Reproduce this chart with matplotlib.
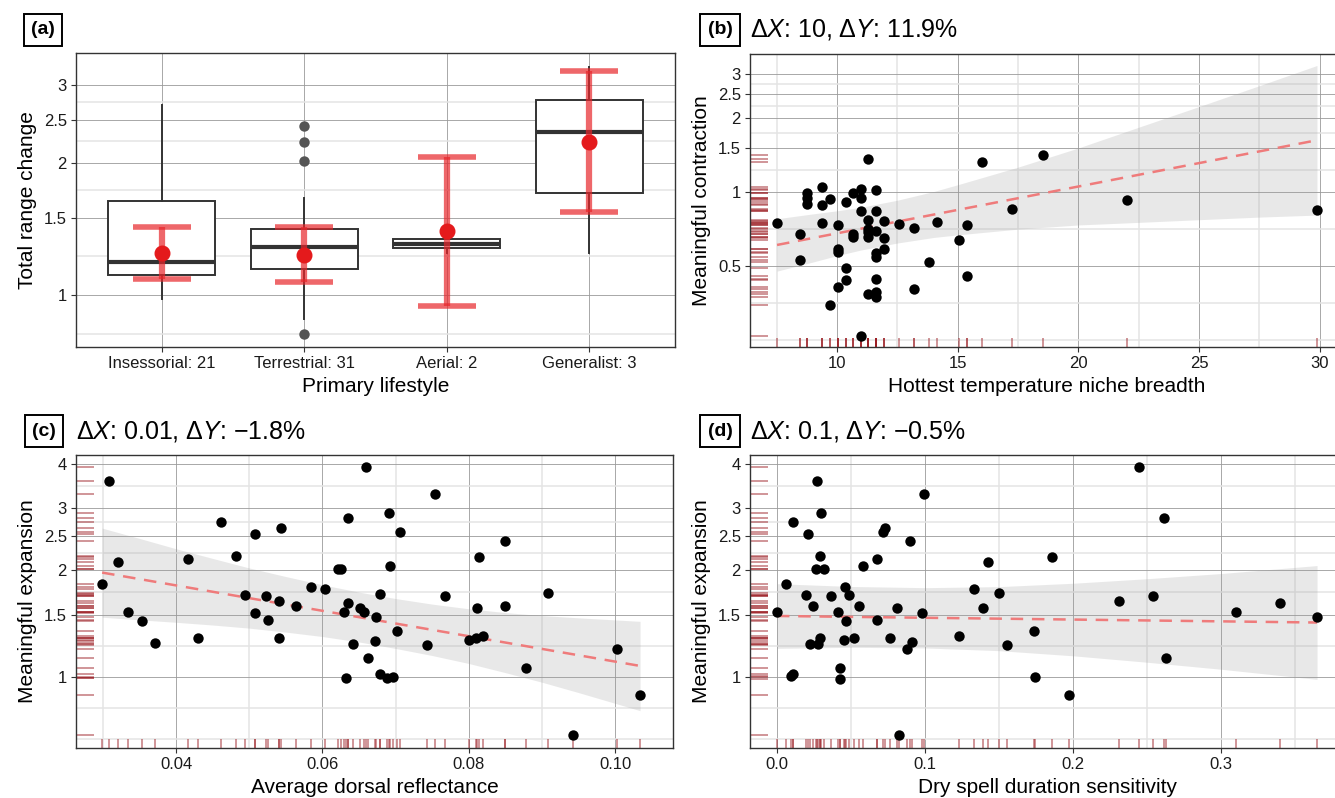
import numpy as np
import matplotlib
matplotlib.use('Agg')
import matplotlib.pyplot as plt
from matplotlib.ticker import FixedLocator, FixedFormatter, NullFormatter, NullLocator

plt.rcParams['font.family'] = ['Liberation Sans', 'DejaVu Sans']
plt.rcParams['mathtext.fontset'] = 'custom'
plt.rcParams['mathtext.rm'] = 'Liberation Sans'
plt.rcParams['mathtext.it'] = 'Liberation Sans:italic'

# ---- panel (a): range change by lifestyle ----
lifestyles = ['Insessorial: 21', 'Terrestrial: 31', 'Aerial: 2', 'Generalist: 3']
box_q1 = [1.114, 1.148, 1.277, 1.706]
box_med = [1.187, 1.288, 1.308, 2.35]
box_q3 = [1.636, 1.413, 1.343, 2.776]
whisk_lo = [0.979, 0.882, 1.25, 1.246]
whisk_hi = [2.70, 1.665, 1.36, 3.30]
outliers = [[], [2.427, 2.23, 2.013, 0.815], [], []]
est = [1.25, 1.237, 1.398, 2.23]
est_lo = [1.091, 1.072, 0.946, 1.544]
est_hi = [1.43, 1.43, 2.056, 3.23]

# ---- panel (b): hottest temperature niche breadth vs contraction ----
b_x = [7.52, 8.45, 8.45, 8.78, 8.78, 8.78, 9.40, 9.40, 9.40, 9.72, 9.72,
       10.04, 10.04, 10.04, 10.04, 10.36, 10.36, 10.36, 10.66, 10.66, 10.66,
       10.98, 10.98, 10.98, 10.98, 11.28, 11.28, 11.28, 11.28, 11.28, 11.28,
       11.61, 11.61, 11.61, 11.61, 11.61, 11.61, 11.61, 11.61, 11.93, 11.93,
       11.93, 12.55, 13.18, 13.18, 13.81, 14.13, 15.07, 15.38, 15.38, 16.02,
       17.27, 18.54, 22.0, 29.88]
b_y = [0.746, 0.672, 0.528, 0.985, 0.94, 0.896, 1.048, 0.884, 0.746, 0.933, 0.346,
       0.735, 0.586, 0.567, 0.41, 0.91, 0.488, 0.437, 0.985, 0.675, 0.654,
       1.026, 0.945, 0.836, 0.26, 1.358, 0.77, 0.708, 0.685, 0.658, 0.385,
       1.016, 0.836, 0.696, 0.562, 0.545, 0.443, 0.391, 0.373, 0.758, 0.647,
       0.586, 0.737, 0.714, 0.404, 0.519, 0.753, 0.638, 0.73, 0.455, 1.32,
       0.855, 1.415, 0.925, 0.847]
b_fit_x = [7.52, 29.88]
b_fit_y = [0.608, 1.62]
b_band_x = [7.52, 9, 10, 11, 12.5, 14, 15, 17.5, 20, 22.5, 25, 27.5, 29.88]
b_band_lo = [0.476, 0.518, 0.550, 0.580, 0.619, 0.652, 0.668, 0.705, 0.733, 0.751, 0.770, 0.789, 0.804]
b_band_hi = [0.777, 0.813, 0.837, 0.865, 0.924, 1.002, 1.068, 1.259, 1.507, 1.83, 2.22, 2.70, 3.26]

# ---- panel (c): dorsal reflectance vs expansion ----
c_x = [0.0309, 0.0299, 0.0321, 0.0334, 0.0354, 0.0371, 0.0417, 0.0430, 0.0462, 0.0482,
       0.0494, 0.0508, 0.0508, 0.0523, 0.0525, 0.0544, 0.0540, 0.0541, 0.0564, 0.0584,
       0.0603, 0.0660, 0.0621, 0.0626, 0.0635, 0.0635, 0.0630, 0.0642, 0.0632, 0.0652,
       0.0657, 0.0662, 0.0673, 0.0672, 0.0678, 0.0679, 0.0688, 0.0696, 0.0691, 0.0693,
       0.0706, 0.0702, 0.0743, 0.0754, 0.0768, 0.0800, 0.0810, 0.0820, 0.0811, 0.0814,
       0.0850, 0.0850, 0.0878, 0.0908, 0.0942, 0.1003, 0.1034]
c_y = [3.57, 1.835, 2.107, 1.525, 1.436, 1.245, 2.158, 1.289, 2.738, 2.195,
       1.708, 2.527, 1.513, 1.689, 1.445, 2.633, 1.635, 1.289, 1.583, 1.795,
       1.765, 3.90, 2.01, 2.01, 2.80, 1.62, 1.52, 1.242, 0.99, 1.57,
       1.525, 1.131, 1.477, 1.261, 1.016, 1.711, 0.996, 1.0, 2.90, 2.05,
       2.565, 1.346, 1.231, 3.28, 1.693, 1.269, 1.289, 1.305, 1.566, 2.187,
       2.42, 1.586, 1.06, 1.726, 0.685, 1.195, 0.89]
c_fit_x = [0.0299, 0.1034]
c_fit_y = [1.97, 1.074]
c_band_x = [0.0299, 0.035, 0.04, 0.045, 0.05, 0.055, 0.06, 0.065, 0.07, 0.075, 0.08, 0.085, 0.09, 0.095, 0.1034]
c_band_lo = [1.474, 1.449, 1.426, 1.401, 1.373, 1.338, 1.30, 1.255, 1.203, 1.149, 1.091, 1.028, 0.966, 0.903, 0.803]
c_band_hi = [2.63, 2.46, 2.30, 2.16, 2.03, 1.92, 1.82, 1.735, 1.664, 1.605, 1.557, 1.519, 1.49, 1.468, 1.435]

# ---- panel (d): dry spell duration sensitivity vs expansion ----
d_x = [0.0, 0.0061, 0.0106, 0.0097, 0.0106, 0.0207, 0.0196, 0.0243, 0.0220, 0.0270,
       0.0297, 0.0288, 0.0261, 0.0320, 0.0277, 0.0288, 0.0365, 0.0412, 0.0423, 0.0428,
       0.0457, 0.0466, 0.0453, 0.0489, 0.0522, 0.0556, 0.0581, 0.0676, 0.0676, 0.0714,
       0.0732, 0.0764, 0.0811, 0.0822, 0.0899, 0.0878, 0.0910, 0.0977, 0.0995, 0.1230,
       0.1333, 0.1390, 0.1423, 0.1497, 0.1554, 0.1734, 0.1745, 0.1858, 0.1975, 0.2313,
       0.2443, 0.2540, 0.2617, 0.2630, 0.3100, 0.3400, 0.3648]
d_y = [1.525, 1.835, 2.738, 1.005, 1.016, 2.527, 1.708, 1.583, 1.242, 3.57,
       2.90, 2.19, 2.01, 2.01, 1.242, 1.289, 1.689, 1.525, 1.06, 0.987,
       1.795, 1.436, 1.269, 1.708, 1.289, 1.583, 2.05, 2.158, 1.452, 2.565,
       2.633, 1.289, 1.57, 0.685, 2.42, 1.195, 1.258, 1.513, 3.28, 1.303,
       1.765, 1.566, 2.11, 1.726, 1.231, 1.346, 1.0, 2.187, 0.888, 1.635,
       3.90, 1.693, 2.80, 1.131, 1.52, 1.62, 1.474]
d_fit_x = [0.0, 0.3648]
d_fit_y = [1.486, 1.424]
d_band_x = [0.0, 0.05, 0.1, 0.15, 0.2, 0.25, 0.3, 0.3648]
d_band_lo = [1.204, 1.212, 1.207, 1.186, 1.147, 1.10, 1.051, 0.984]
d_band_hi = [1.833, 1.80, 1.786, 1.798, 1.838, 1.893, 1.958, 2.062]

titles = {'b': r'$\Delta X$: 10, $\Delta Y$: 11.9%',
          'c': '$\\Delta X$: 0.01, $\\Delta Y$: \u22121.8%',
          'd': '$\\Delta X$: 0.1, $\\Delta Y$: \u22120.5%'}

W, H = 1335, 798
fig = plt.figure(figsize=(W / 100, H / 100), dpi=100)


def px_axes(left, top, right, bottom):
    return fig.add_axes([left / W, 1 - bottom / H, (right - left) / W, (bottom - top) / H])


def minor_breaks(major, lo, hi, log=False, up=True):
    # ggplot-style minor breaks: midpoints between majors (in transformed space),
    # plus one extended break below (and above if up)
    t = np.log(major) if log else np.array(major, float)
    t = np.concatenate([[t[0] - (t[1] - t[0])], t])
    if up:
        t = np.concatenate([t, [t[-1] + (t[-1] - t[-2])]])
    m = np.concatenate([(t[:-1] + t[1:]) / 2, t[[0, -1]] if up else t[[0]]])
    m = np.exp(m) if log else m
    return [v for v in m if lo < v < hi]


def style(ax, xlim, ylim, ymaj, ylab, xmaj=None, xlab=None):
    ax.set_yscale('log')
    ax.set_ylim(*ylim)
    ax.set_xlim(*xlim)
    ax.yaxis.set_major_locator(FixedLocator(ymaj))
    ax.yaxis.set_major_formatter(FixedFormatter(ylab))
    ax.yaxis.set_minor_locator(FixedLocator(minor_breaks(ymaj, *ylim, log=True, up=False)))
    ax.yaxis.set_minor_formatter(NullFormatter())
    if xmaj is not None:
        ax.xaxis.set_major_locator(FixedLocator(xmaj))
        ax.xaxis.set_major_formatter(FixedFormatter(xlab))
        ax.xaxis.set_minor_locator(FixedLocator(minor_breaks(xmaj, *xlim)))
    else:
        ax.xaxis.set_minor_locator(NullLocator())
    ax.grid(which='major', color='#9a9a9a', lw=0.6)
    ax.grid(which='minor', color='#e4e4e4', lw=1.1)
    ax.set_axisbelow(True)
    ax.tick_params(which='major', length=3.5, width=0.8, color='#333333',
                   labelsize=12, labelcolor='#1a1a1a', pad=3)
    ax.tick_params(which='minor', length=0)
    for s in ax.spines.values():
        s.set_color('#333333')
        s.set_linewidth(1.0)


def rugs(ax, xs, ys):
    kw = dict(color='#9b1c22', alpha=0.5, lw=1.3)
    ax.vlines(xs, 0, 0.03, transform=ax.get_xaxis_transform(), **kw)
    ax.hlines(ys, 0, 0.03, transform=ax.get_yaxis_transform(), **kw)


def scatter_panel(ax, xs, ys, fx, fy, bx, blo, bhi):
    ax.fill_between(bx, blo, bhi, color='#999999', alpha=0.22, lw=0, zorder=2)
    ax.plot(fx, fy, color='#ef7b7b', lw=1.8, ls=(0, (5, 3.5)), zorder=3)
    ax.scatter(xs, ys, s=56, color='black', lw=0, zorder=4)
    rugs(ax, xs, ys)


def panel_label(x, y, s):
    fig.text(x / W, 1 - y / H, s, fontsize=14, fontweight='bold', ha='center', va='center',
             bbox=dict(boxstyle='square,pad=0.38', fc='white', ec='black', lw=1.4))


# panel (a)
ax = px_axes(76, 53, 675, 347)
pos = np.arange(1, 5)
stats = [dict(med=m, q1=a, q3=b, whislo=lo, whishi=hi, fliers=f)
         for m, a, b, lo, hi, f in zip(box_med, box_q1, box_q3, whisk_lo, whisk_hi, outliers)]
ax.bxp(stats, positions=pos, widths=0.75, patch_artist=True, showcaps=False,
       boxprops=dict(facecolor='white', edgecolor='#333333', lw=1.4),
       medianprops=dict(color='#333333', lw=3),
       whiskerprops=dict(color='#333333', lw=1.4),
       flierprops=dict(marker='o', markerfacecolor='#555555', markeredgecolor='none', markersize=7.5),
       zorder=2)
est_arr = np.array(est)
yerr = [est_arr - np.array(est_lo), np.array(est_hi) - est_arr]
ax.errorbar(pos, est, yerr=yerr, fmt='none', ecolor='#e8262b', alpha=0.7,
            elinewidth=4.5, capsize=21, capthick=4, zorder=3)
ax.plot(pos, est, 'o', color='#e41a1c', markersize=10.5, zorder=4)
style(ax, (0.4, 4.6), (0.763, 3.545), [1, 1.5, 2, 2.5, 3], ['1', '1.5', '2', '2.5', '3'])
ax.set_xticks(pos)
ax.set_xticklabels(lifestyles)
ax.set_xlabel('Primary lifestyle', fontsize=15, labelpad=4)
ax.set_ylabel('Total range change', fontsize=15, labelpad=5)
panel_label(43, 30, '(a)')

# panel (b)
ax = px_axes(750, 54, 1344, 347)
scatter_panel(ax, b_x, b_y, b_fit_x, b_fit_y, b_band_x, b_band_lo, b_band_hi)
style(ax, (6.40, 31.0), (0.234, 3.63), [0.5, 1, 1.5, 2, 2.5, 3], ['0.5', '1', '1.5', '2', '2.5', '3'],
      [10, 15, 20, 25, 30], ['10', '15', '20', '25', '30'])
ax.set_xlabel('Hottest temperature niche breadth', fontsize=15, labelpad=4)
ax.set_ylabel('Meaningful contraction', fontsize=15, labelpad=5)
panel_label(720, 30, '(b)')
fig.text(750 / W, 1 - 30 / H, titles['b'], fontsize=18, ha='left', va='center')

yexp = [1, 1.5, 2, 2.5, 3, 4]
yexp_lab = ['1', '1.5', '2', '2.5', '3', '4']

# panel (c)
ax = px_axes(76, 455, 673, 748)
scatter_panel(ax, c_x, c_y, c_fit_x, c_fit_y, c_band_x, c_band_lo, c_band_hi)
style(ax, (0.02633, 0.1079), (0.63, 4.23), yexp, yexp_lab,
      [0.04, 0.06, 0.08, 0.10], ['0.04', '0.06', '0.08', '0.10'])
ax.set_xlabel('Average dorsal reflectance', fontsize=15, labelpad=4)
ax.set_ylabel('Meaningful expansion', fontsize=15, labelpad=5)
panel_label(44, 431, '(c)')
fig.text(76 / W, 1 - 432 / H, titles['c'], fontsize=18, ha='left', va='center')

# panel (d)
ax = px_axes(750, 455, 1344, 748)
scatter_panel(ax, d_x, d_y, d_fit_x, d_fit_y, d_band_x, d_band_lo, d_band_hi)
style(ax, (-0.0182, 0.383), (0.63, 4.23), yexp, yexp_lab,
      [0.0, 0.1, 0.2, 0.3], ['0.0', '0.1', '0.2', '0.3'])
ax.set_xlabel('Dry spell duration sensitivity', fontsize=15, labelpad=4)
ax.set_ylabel('Meaningful expansion', fontsize=15, labelpad=5)
panel_label(720, 431, '(d)')
fig.text(750 / W, 1 - 432 / H, titles['d'], fontsize=18, ha='left', va='center')

fig.savefig('out.png', dpi=100, facecolor='white')
